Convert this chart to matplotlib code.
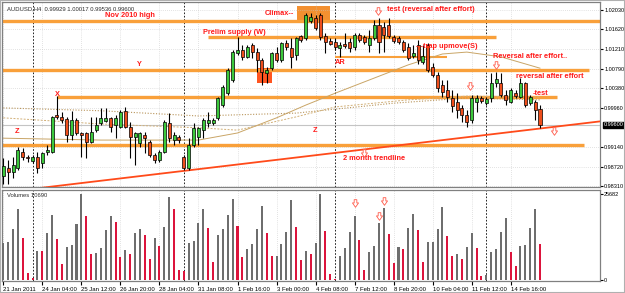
import matplotlib.pyplot as plt
from matplotlib.patches import Rectangle
from matplotlib.path import Path
import numpy as np

plt.rcParams['font.family'] = ['Liberation Sans', 'DejaVu Sans']

# AUDUSD H4 candles, 21 Jan 2011 .. 15 Feb 2011
opens = [0.9853, 0.9868, 0.9860, 0.9868, 0.9903, 0.9892, 0.9884, 0.9892, 0.9879, 0.9903,
         0.9903, 0.9981, 0.9977, 0.9972, 0.9939, 0.9970, 0.9943, 0.9943, 0.9924, 0.9949,
         0.9964, 0.9968, 0.9975, 0.9960, 0.9956, 0.9990, 0.9956, 0.9934, 0.9922, 0.9939,
         0.9924, 0.9896, 0.9886, 0.9903, 0.9964, 0.9928, 0.9934, 0.9892, 0.9868, 0.9918,
         0.9934, 0.9949, 0.9964, 0.9964, 0.9975, 1.0002, 1.0027, 1.0055, 1.0112, 1.0119,
         1.0104, 1.0129, 1.0114, 1.0097, 1.0070, 1.0080, 1.0112, 1.0097, 1.0133, 1.0123,
         1.0108, 1.0148, 1.0144, 1.0180, 1.0186, 1.0192, 1.0148, 1.0137, 1.0135, 1.0123,
         1.0131, 1.0135, 1.0125, 1.0150, 1.0146, 1.0129, 1.0144, 1.0171, 1.0167, 1.0171,
         1.0146, 1.0144, 1.0135, 1.0125, 1.0106, 1.0129, 1.0093, 1.0129, 1.0082, 1.0066,
         1.0044, 1.0033, 1.0017, 1.0009, 0.9996, 0.9981, 0.9970, 1.0009, 1.0017, 1.0006,
         1.0017, 1.0049, 1.0049, 1.0023, 1.0009, 1.0027, 1.0019, 1.0049, 1.0006, 1.0009,
         0.99929]
highs = [0.9890, 0.9886, 0.9892, 0.9913, 0.9911, 0.9896, 0.9896, 0.9903, 0.9903, 0.9918,
         0.9979, 1.0021, 0.9987, 0.9977, 0.9990, 0.9975, 0.9945, 0.9945, 0.9977, 0.9977,
         0.9996, 0.9996, 0.9977, 0.9981, 0.9992, 0.9998, 0.9966, 0.9945, 0.9945, 0.9945,
         0.9928, 0.9901, 0.9907, 0.9970, 0.9985, 0.9945, 0.9939, 0.9896, 0.9932, 0.9964,
         0.9956, 0.9975, 0.9987, 0.9975, 1.0019, 1.0044, 1.0080, 1.0119, 1.0146, 1.0129,
         1.0129, 1.0133, 1.0123, 1.0102, 1.0082, 1.0114, 1.0125, 1.0135, 1.0140, 1.0144,
         1.0146, 1.0150, 1.0197, 1.0197, 1.0192, 1.0197, 1.0154, 1.0144, 1.0144, 1.0135,
         1.0154, 1.0144, 1.0154, 1.0154, 1.0150, 1.0161, 1.0182, 1.0186, 1.0178, 1.0186,
         1.0150, 1.0148, 1.0140, 1.0133, 1.0129, 1.0140, 1.0129, 1.0133, 1.0091, 1.0072,
         1.0055, 1.0055, 1.0033, 1.0027, 1.0002, 0.9992, 1.0023, 1.0023, 1.0021, 1.0019,
         1.0070, 1.0072, 1.0070, 1.0033, 1.0038, 1.0033, 1.0059, 1.0051, 1.0023, 1.0013,
         1.00017]
lows = [0.9836, 0.9836, 0.9847, 0.9864, 0.9886, 0.9881, 0.9879, 0.9858, 0.9868, 0.9896,
        0.9901, 0.9972, 0.9964, 0.9924, 0.9928, 0.9939, 0.9892, 0.9890, 0.9922, 0.9945,
        0.9960, 0.9966, 0.9945, 0.9932, 0.9954, 0.9954, 0.9890, 0.9875, 0.9913, 0.9901,
        0.9892, 0.9879, 0.9881, 0.9901, 0.9924, 0.9918, 0.9922, 0.9864, 0.9864, 0.9913,
        0.9918, 0.9932, 0.9956, 0.9960, 0.9970, 0.9998, 1.0023, 1.0051, 1.0108, 1.0097,
        1.0102, 1.0102, 1.0072, 1.0044, 1.0049, 1.0076, 1.0093, 1.0093, 1.0119, 1.0080,
        1.0097, 1.0135, 1.0140, 1.0175, 1.0161, 1.0140, 1.0112, 1.0129, 1.0119, 1.0104,
        1.0123, 1.0114, 1.0119, 1.0135, 1.0131, 1.0114, 1.0140, 1.0112, 1.0114, 1.0144,
        1.0133, 1.0131, 1.0114, 1.0097, 1.0102, 1.0089, 1.0089, 1.0072, 1.0061, 1.0029,
        1.0019, 1.0009, 0.9987, 0.9975, 0.9966, 0.9956, 0.9964, 0.9987, 1.0006, 1.0002,
        1.0009, 1.0040, 1.0019, 1.0002, 1.0006, 1.0017, 1.0017, 0.9998, 1.0002, 0.9970,
        0.99536]
closes = [0.9873, 0.9860, 0.9875, 0.9907, 0.9892, 0.9890, 0.9892, 0.9870, 0.9901, 0.9907,
          0.9977, 0.9977, 0.9970, 0.9939, 0.9970, 0.9943, 0.9939, 0.9924, 0.9945, 0.9960,
          0.9975, 0.9975, 0.9956, 0.9975, 0.9987, 0.9956, 0.9934, 0.9943, 0.9943, 0.9932,
          0.9896, 0.9886, 0.9903, 0.9966, 0.9932, 0.9939, 0.9928, 0.9868, 0.9918, 0.9954,
          0.9954, 0.9970, 0.9970, 0.9970, 1.0017, 1.0040, 1.0076, 1.0114, 1.0119, 1.0104,
          1.0125, 1.0114, 1.0097, 1.0072, 1.0076, 1.0112, 1.0097, 1.0133, 1.0125, 1.0104,
          1.0144, 1.0140, 1.0192, 1.0188, 1.0165, 1.0146, 1.0135, 1.0131, 1.0125, 1.0129,
          1.0127, 1.0123, 1.0150, 1.0140, 1.0135, 1.0144, 1.0171, 1.0135, 1.0150, 1.0148,
          1.0137, 1.0135, 1.0119, 1.0102, 1.0112, 1.0097, 1.0106, 1.0076, 1.0066, 1.0038,
          1.0029, 1.0019, 1.0000, 0.9992, 0.9981, 0.9966, 1.0017, 1.0017, 1.0011, 1.0015,
          1.0049, 1.0057, 1.0023, 1.0013, 1.0033, 1.0021, 1.0049, 1.0002, 1.0019, 0.9992,
          0.99600]
volumes = [11140, 11340, 15320, 21290, 12540, 1990, 700, 8760, 8560, 14030,
           19400, 12240, 4880, 9850, 10350, 16720, 25570, 19000, 7660, 8060,
           9650, 14930, 19000, 17210, 6770, 8960, 7660, 14130, 15320, 13330,
           6170, 12440, 10050, 15820, 24680, 21190, 2990, 2590, 10950, 11640,
           17010, 21190, 15520, 5370, 13430, 15320, 19500, 24280, 16120, 6870,
           9150, 10850, 15220, 22090, 13930, 7160, 7260, 10850, 14330, 23880,
           15820, 5970, 8660, 7860, 11040, 25682, 14630, 1790, 400, 7160,
           9550, 14330, 19100, 12040, 2990, 8460, 10250, 17110, 21390, 13730,
           5170, 9750, 9150, 15620, 19800, 15020, 5470, 11240, 11440, 15320,
           21790, 13130, 7160, 7860, 6370, 9850, 13930, 9650, 1090, 1490,
           8460, 9250, 14330, 18510, 8460, 4180, 10050, 10450, 15520, 21190,
           10690]

# moving averages, read at a few bars
ma1_bars = [0, 20, 40, 48, 56, 62, 68, 76, 83, 90, 95, 102, 110]
ma1 = [0.9932, 0.9928, 0.9928, 0.9943, 0.9975, 1.0002, 1.0027, 1.0059, 1.0087, 1.0110, 1.0114, 1.0104, 1.0080]
ma2_bars = [0, 20, 40, 60, 80, 95, 110]
ma2 = [0.9996, 0.9990, 0.9979, 0.9985, 1.0006, 1.0017, 1.0013]
ma3_bars = [0, 20, 40, 48, 60, 68, 83, 95, 110]
ma3 = [0.9975, 0.9962, 0.9954, 0.9949, 0.9977, 0.9998, 1.0013, 1.0021, 1.0019]

# drawn objects
level_prices = [1.0180, 1.0146, 1.0104, 1.0076, 1.0019, 0.9918]
level_start = [-1, 42, 68, -1, 11, -1]
level_end = [123, 101, 91, 120, 113.5, 119]
trend_bars = [7.5, 122.3]
trend_prices = [0.98267, 0.99675]
week_starts = [6, 37, 68, 99]
bid = 0.99600

tick_bars = [0, 8, 16, 24, 32, 40, 48, 56, 64, 72, 80, 88, 96, 104]
tick_labels = ['21 Jan 2011', '24 Jan 04:00', '25 Jan 12:00', '26 Jan 20:00', '28 Jan 04:00',
               '31 Jan 08:00', '1 Feb 16:00', '3 Feb 00:00', '4 Feb 08:00', '7 Feb 12:00',
               '8 Feb 20:00', '10 Feb 04:00', '11 Feb 12:00', '14 Feb 16:00']
price_ticks = [1.02030, 1.01620, 1.01210, 1.00790, 1.00380, 0.99960, 0.99140, 0.98720, 0.98310]

opens = np.array(opens); highs = np.array(highs); lows = np.array(lows); closes = np.array(closes)
volumes = np.array(volumes)
bars = np.arange(len(closes))

fig = plt.figure(figsize=(6.25, 2.93), dpi=100)
fig.patch.set_facecolor('white')
ax = fig.add_axes([2/625, 1-187/293, 598/625, 185/293])
axv = fig.add_axes([2/625, 1-281/293, 598/625, 91/293])

red_txt = '#FF1A1A'
orange = '#F9A03A'

#%% main pane
ax.set_xlim(-0.27, 122.3)
ax.set_ylim(0.98288, 1.02199)

for lp, ls_, le_ in zip(level_prices, level_start, level_end):
    lw = 1.5 if lp == 1.0104 else 2.4
    ax.plot([ls_, le_], [lp, lp], color=orange, lw=lw, solid_capstyle='butt', zorder=2)

# climax box and the red box under the shakeout
ax.add_patch(Rectangle((60.2, 1.0180), 6.8, 0.0031, facecolor='#F39030', edgecolor='none', zorder=1.5))
ax.add_patch(Rectangle((52.0, 1.0049), 3.1, 0.0031, facecolor='#FF5520', edgecolor='none', zorder=1.5))

ax.plot(ma1_bars, ma1, color='#C9A566', lw=0.7, zorder=2.5)
ax.plot(ma2_bars, ma2, color='#B8945A', lw=0.8, ls=(0, (1, 1.5)), zorder=2.5)
ax.plot(ma3_bars, ma3, color='#D2B078', lw=0.7, ls=(0, (2, 1.5)), zorder=2.5)

ax.axhline(bid, color='#C4C4C4', lw=0.8, zorder=1)
ax.plot(trend_bars, trend_prices, color='#FF4A1A', lw=1.3, zorder=3)

up = closes >= opens
body_lo = np.minimum(opens, closes)
body_h = np.maximum(np.abs(closes - opens), 0.00009)
ax.vlines(bars, lows, highs, color='black', lw=0.8, zorder=4)
ax.bar(bars, body_h, bottom=body_lo, width=0.62,
       color=np.where(up, '#3CC83C', '#EE4E1C'), edgecolor='black', lw=0.5, zorder=5)

for wk in week_starts:
    ax.axvline(wk, color='black', lw=0.6, ls=(0, (2, 2)), zorder=1)
    axv.axvline(wk, color='black', lw=0.6, ls=(0, (2, 2)), zorder=1)

ax.set_yticks(price_ticks)
ax.set_yticklabels(['%.5f' % p for p in price_ticks])
ax.yaxis.tick_right()
ax.set_xticks(tick_bars)
ax.tick_params(axis='x', labelbottom=False, length=0)
ax.tick_params(axis='y', labelsize=4, length=2, pad=1, colors='black')
ax.grid(True, color='#C8C8C8', lw=0.5, ls=(0, (1, 2)))
ax.annotate('%.5f' % bid, xy=(1.0, bid), xycoords=('axes fraction', 'data'),
            xytext=(2.5, 0), textcoords='offset points', fontsize=4, color='white',
            va='center', ha='left',
            bbox=dict(boxstyle='square,pad=0.15', facecolor='black', edgecolor='black'))

ax.text(0.008, 0.975, 'AUDUSD,H4  0.99929 1.00017 0.99536 0.99600', transform=ax.transAxes,
        fontsize=4.2, color='#303030', va='top', ha='left')

# annotations
tkw = dict(color=red_txt, fontsize=5.3, fontweight='bold', va='center', zorder=6)
ax.text(26, 1.0191, 'Nov 2010 high', ha='center', **tkw)
ax.text(27.8, 1.0087, 'Y', ha='center', **tkw)
ax.text(11, 1.0024, 'X', ha='center', **tkw)
ax.text(2.8, 0.9947, 'Z', ha='center', **tkw)
ax.text(63.9, 0.9949, 'Z', ha='center', **tkw)
ax.text(40.9, 1.0155, 'Prelim supply (W)', ha='left', **tkw)
ax.text(53.6, 1.0195, 'Climax--', ha='left', **tkw)
ax.text(68, 1.0093, 'AR', ha='left', **tkw)
ax.text(78.6, 1.0203, 'test (reversal after effort)', ha='left', **tkw)
ax.text(84.5, 1.0125, '- -trap upmove(S)', ha='left', **tkw)
ax.text(100.3, 1.0104, 'Reversal after effort..', ha='left', **tkw)
ax.text(105, 1.0063, 'reversal after effort', ha='left', **tkw)
ax.text(108.5, 1.0027, '-test', ha='left', **tkw)
ax.text(69.6, 0.9888, '2 month trendline', ha='left', **tkw)

# hollow down arrows
arrow = Path([(-0.35, 1.0), (0.35, 1.0), (0.35, 0.15), (0.8, 0.15), (0.0, -1.0),
              (-0.8, 0.15), (-0.35, 0.15), (-0.35, 1.0)],
             [Path.MOVETO] + [Path.LINETO] * 6 + [Path.CLOSEPOLY])
arrow_bars = [76.8, 73.9, 100.9, 95.6, 112.8]
arrow_prices = [1.0200, 0.9901, 1.0087, 1.0042, 0.9947]
ax.scatter(arrow_bars, arrow_prices, marker=arrow, s=30, facecolor='white',
           edgecolor='#FF5A4A', lw=0.6, zorder=6)

#%% volume pane
axv.set_xlim(-0.27, 122.3)
axv.set_ylim(-300, 26876)
vol_up = np.r_[True, volumes[1:] >= volumes[:-1]]
axv.bar(bars, volumes, width=0.42, color=np.where(vol_up, '#6E6E6E', '#DC143C'), zorder=3)
vol_arrow_bars = [72, 77, 78]
vol_arrow_vals = [23000, 19100, 23600]
axv.scatter(vol_arrow_bars, vol_arrow_vals, marker=arrow, s=30, facecolor='white',
            edgecolor='#FF5A4A', lw=0.6, zorder=6)

axv.set_xticks(tick_bars)
axv.set_xticklabels(tick_labels, ha='left')
axv.tick_params(axis='x', labelsize=4.3, length=3, pad=1, colors='black')
axv.yaxis.tick_right()
axv.set_yticks([0, 25682])
axv.set_yticklabels(['0', '25682'])
axv.tick_params(axis='y', labelsize=4, length=2, pad=1)
axv.grid(True, axis='x', color='#C8C8C8', lw=0.5, ls=(0, (1, 2)))
axv.text(0.008, 0.965, 'Volumes 10690', transform=axv.transAxes, fontsize=4.2,
         color='#303030', va='top', ha='left')

for a in (ax, axv):
    for sp in a.spines.values():
        sp.set_color('#808080')
        sp.set_linewidth(0.9)

fig.add_artist(Rectangle((0, 0), 1, 1, transform=fig.transFigure, fill=False,
                         edgecolor='#B0B0B0', lw=1.5))

fig.savefig('out.png', dpi=100, facecolor='white')
